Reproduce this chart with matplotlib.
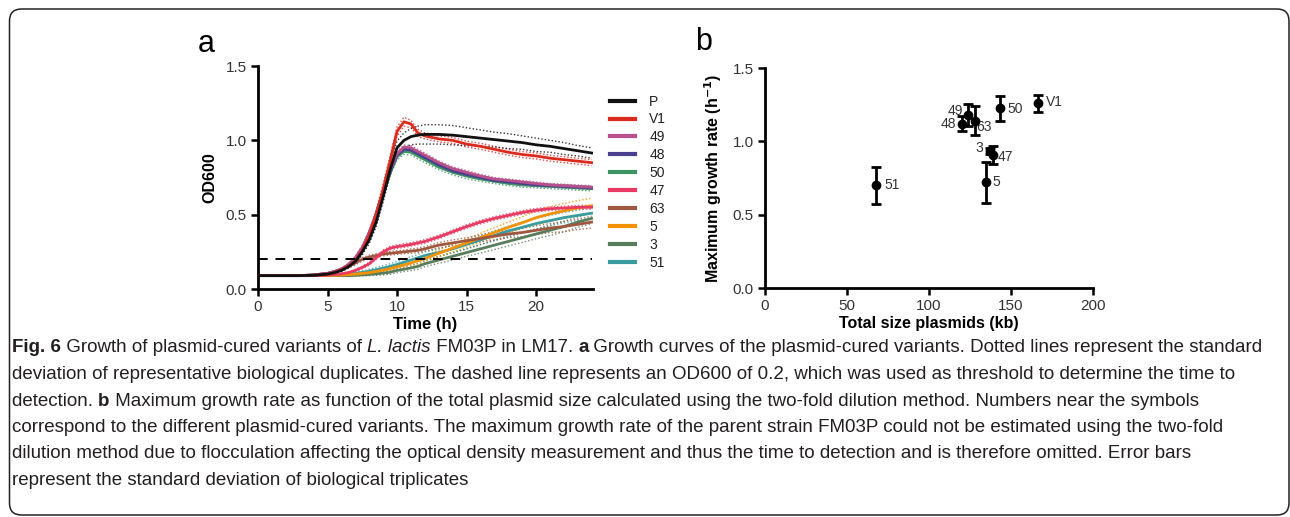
import matplotlib
matplotlib.use("Agg")
from matplotlib import pyplot as plt
from matplotlib.patches import FancyBboxPatch
from matplotlib.transforms import IdentityTransform

# ---- panel a: growth curves (OD600 vs time) ----
time_h = [0, 1, 2, 3, 4, 5, 5.5, 6, 6.5, 7, 7.5, 8, 8.5, 9, 9.5, 10, 10.5, 11, 11.5, 12,
          13, 14, 15, 16, 17, 18, 19, 20, 21, 22, 23, 24]

od_P = [0.09, 0.09, 0.09, 0.09, 0.092, 0.10, 0.11, 0.125, 0.15, 0.185, 0.25, 0.33, 0.45, 0.62, 0.80, 0.95,
        1.0, 1.025, 1.035, 1.04, 1.04, 1.035, 1.025, 1.015, 1.005, 0.995, 0.985, 0.97, 0.96, 0.945, 0.93, 0.915]
od_V1 = [0.09, 0.09, 0.09, 0.09, 0.093, 0.10, 0.112, 0.13, 0.155, 0.19, 0.26, 0.36, 0.5, 0.67, 0.86, 1.06,
         1.125, 1.11, 1.05, 1.03, 1.01, 1.0, 0.975, 0.96, 0.94, 0.92, 0.905, 0.895, 0.88, 0.87, 0.86, 0.85]
od_49 = [0.09, 0.09, 0.09, 0.09, 0.094, 0.105, 0.118, 0.135, 0.165, 0.21, 0.28, 0.38, 0.51, 0.66, 0.80, 0.91,
         0.955, 0.95, 0.925, 0.90, 0.85, 0.81, 0.785, 0.76, 0.74, 0.73, 0.72, 0.71, 0.70, 0.695, 0.69, 0.685]
od_48 = [0.09, 0.09, 0.09, 0.09, 0.094, 0.105, 0.117, 0.133, 0.162, 0.205, 0.275, 0.375, 0.50, 0.65, 0.79, 0.90,
         0.94, 0.935, 0.91, 0.885, 0.835, 0.795, 0.77, 0.75, 0.73, 0.72, 0.71, 0.70, 0.695, 0.69, 0.685, 0.68]
od_50 = [0.09, 0.09, 0.09, 0.09, 0.094, 0.104, 0.116, 0.132, 0.16, 0.20, 0.27, 0.37, 0.49, 0.64, 0.78, 0.89,
         0.925, 0.92, 0.895, 0.87, 0.82, 0.785, 0.76, 0.74, 0.725, 0.71, 0.70, 0.695, 0.69, 0.685, 0.68, 0.675]
od_47 = [0.09, 0.09, 0.09, 0.09, 0.09, 0.093, 0.097, 0.102, 0.11, 0.125, 0.145, 0.17, 0.21, 0.25, 0.275, 0.285,
         0.292, 0.30, 0.31, 0.32, 0.35, 0.385, 0.42, 0.45, 0.475, 0.495, 0.515, 0.53, 0.54, 0.545, 0.55, 0.55]
od_63 = [0.09, 0.09, 0.09, 0.09, 0.095, 0.105, 0.115, 0.13, 0.15, 0.175, 0.20, 0.215, 0.225, 0.235, 0.24, 0.245,
         0.25, 0.255, 0.26, 0.27, 0.295, 0.31, 0.325, 0.34, 0.355, 0.37, 0.38, 0.395, 0.41, 0.42, 0.435, 0.45]
od_5 = [0.09, 0.09, 0.09, 0.09, 0.09, 0.09, 0.092, 0.094, 0.097, 0.10, 0.105, 0.11, 0.118, 0.127, 0.137, 0.15,
        0.162, 0.175, 0.19, 0.205, 0.24, 0.275, 0.31, 0.345, 0.38, 0.415, 0.445, 0.48, 0.505, 0.525, 0.545, 0.56]
od_3 = [0.09, 0.09, 0.09, 0.09, 0.09, 0.09, 0.09, 0.09, 0.09, 0.092, 0.095, 0.098, 0.102, 0.107, 0.113, 0.125,
        0.133, 0.142, 0.152, 0.17, 0.195, 0.22, 0.245, 0.27, 0.295, 0.32, 0.345, 0.37, 0.395, 0.42, 0.45, 0.475]
od_51 = [0.09, 0.09, 0.09, 0.09, 0.09, 0.09, 0.092, 0.095, 0.10, 0.105, 0.112, 0.12, 0.13, 0.14, 0.152, 0.165,
         0.18, 0.195, 0.21, 0.225, 0.245, 0.27, 0.3, 0.33, 0.36, 0.39, 0.415, 0.44, 0.46, 0.48, 0.495, 0.51]

sd_P = [0, 0, 0, 0, 0, 0.003, 0.005, 0.008, 0.01, 0.015, 0.02, 0.025, 0.03, 0.035, 0.04, 0.045,
        0.05, 0.055, 0.06, 0.065, 0.065, 0.065, 0.06, 0.055, 0.05, 0.05, 0.045, 0.045, 0.04, 0.04, 0.035, 0.035]
sd_V1 = [0, 0, 0, 0, 0, 0.003, 0.005, 0.008, 0.01, 0.015, 0.02, 0.025, 0.03, 0.035, 0.035, 0.03,
         0.03, 0.025, 0.025, 0.02, 0.02, 0.02, 0.02, 0.02, 0.02, 0.02, 0.02, 0.02, 0.02, 0.02, 0.02, 0.02]
sd_49 = [0, 0, 0, 0, 0, 0.002, 0.003, 0.005, 0.007, 0.01, 0.012, 0.015, 0.015, 0.015, 0.015, 0.015,
         0.015, 0.015, 0.015, 0.015, 0.012, 0.012, 0.012, 0.012, 0.01, 0.01, 0.01, 0.01, 0.01, 0.01, 0.01, 0.01]
sd_48 = sd_49
sd_50 = [0, 0, 0, 0, 0, 0.002, 0.003, 0.005, 0.007, 0.01, 0.012, 0.015, 0.018, 0.02, 0.02, 0.02,
         0.02, 0.02, 0.02, 0.02, 0.018, 0.018, 0.018, 0.016, 0.016, 0.015, 0.015, 0.015, 0.015, 0.015, 0.015, 0.015]
sd_47 = [0, 0, 0, 0, 0, 0.002, 0.003, 0.004, 0.005, 0.006, 0.008, 0.01, 0.01, 0.012, 0.012, 0.012,
         0.012, 0.012, 0.012, 0.012, 0.012, 0.012, 0.012, 0.012, 0.012, 0.012, 0.012, 0.012, 0.012, 0.012, 0.012, 0.012]
sd_63 = [0, 0, 0, 0, 0, 0.003, 0.005, 0.008, 0.01, 0.012, 0.012, 0.012, 0.012, 0.012, 0.012, 0.012,
         0.012, 0.015, 0.015, 0.015, 0.018, 0.02, 0.02, 0.022, 0.025, 0.025, 0.028, 0.03, 0.03, 0.035, 0.035, 0.04]
sd_5 = [0, 0, 0, 0, 0, 0, 0.002, 0.003, 0.004, 0.005, 0.006, 0.008, 0.01, 0.012, 0.014, 0.015,
        0.016, 0.018, 0.02, 0.02, 0.022, 0.025, 0.028, 0.03, 0.032, 0.035, 0.04, 0.045, 0.05, 0.05, 0.05, 0.05]
sd_3 = [0, 0, 0, 0, 0, 0, 0.002, 0.003, 0.004, 0.005, 0.006, 0.008, 0.01, 0.012, 0.014, 0.015,
        0.016, 0.018, 0.02, 0.02, 0.022, 0.025, 0.025, 0.028, 0.03, 0.03, 0.032, 0.032, 0.035, 0.035, 0.035, 0.035]
sd_51 = [0, 0, 0, 0, 0, 0, 0.002, 0.004, 0.006, 0.008, 0.01, 0.012, 0.014, 0.016, 0.018, 0.02,
         0.02, 0.022, 0.022, 0.025, 0.025, 0.028, 0.03, 0.03, 0.032, 0.032, 0.035, 0.035, 0.035, 0.035, 0.035, 0.035]

series_names = ["P", "V1", "49", "48", "50", "47", "63", "5", "3", "51"]
series_od = [od_P, od_V1, od_49, od_48, od_50, od_47, od_63, od_5, od_3, od_51]
series_sd = [sd_P, sd_V1, sd_49, sd_48, sd_50, sd_47, sd_63, sd_5, sd_3, sd_51]
series_colors = ["#111111", "#dc2a1e", "#b8508c", "#4b3f8f", "#3b9462", "#e83a62",
                 "#a0573f", "#f39200", "#587d5c", "#3a9c9e"]
threshold_od = 0.2

# ---- panel b: max growth rate vs plasmid size ----
variant_labels = ["51", "48", "49", "63", "50", "V1", "3", "47", "5"]
size_kb = [67.5, 119.9, 123.6, 127.8, 143.1, 166.3, 137.0, 139.2, 134.6]
max_rate = [0.70, 1.12, 1.18, 1.14, 1.225, 1.26, 0.935, 0.907, 0.72]
rate_sd = [0.125, 0.05, 0.075, 0.10, 0.085, 0.057, 0.02, 0.06, 0.141]

CAPTION = [
    [("Fig. 6", "bold", "normal"), (" Growth of plasmid-cured variants of ", "normal", "normal"),
     ("L. lactis", "normal", "italic"), (" FM03P in LM17. ", "normal", "normal"), ("a", "bold", "normal"),
     (" Growth curves of the plasmid-cured variants. Dotted lines represent the standard", "normal", "normal")],
    [("deviation of representative biological duplicates. The dashed line represents an OD600 of 0.2, "
      "which was used as threshold to determine the time to", "normal", "normal")],
    [("detection. ", "normal", "normal"), ("b", "bold", "normal"),
     (" Maximum growth rate as function of the total plasmid size calculated using the two-fold dilution "
      "method. Numbers near the symbols", "normal", "normal")],
    [("correspond to the different plasmid-cured variants. The maximum growth rate of the parent strain "
      "FM03P could not be estimated using the two-fold", "normal", "normal")],
    [("dilution method due to flocculation affecting the optical density measurement and thus the time to "
      "detection and is therefore omitted. Error bars", "normal", "normal")],
    [("represent the standard deviation of biological triplicates", "normal", "normal")],
]

plt.rcParams["font.family"] = ["Liberation Sans", "DejaVu Sans"]
TICK_COLOR = "#333333"


def style_axes(ax):
    for side in ["top", "right"]:
        ax.spines[side].set_visible(False)
    for side in ["left", "bottom"]:
        ax.spines[side].set_linewidth(2.0)
    ax.tick_params(direction="out", length=5, width=1.8, labelsize=11, labelcolor=TICK_COLOR, pad=3)


def plot_growth(fig):
    ax = fig.add_axes([0.2, 0.441, 0.2597, 0.4313])
    handles = []
    n = len(series_names)
    for i in reversed(range(n)):
        od = series_od[i]
        sd = series_sd[i]
        upper = [m + s for m, s in zip(od, sd)]
        lower = [m - s for m, s in zip(od, sd)]
        ax.plot(time_h, upper, color=series_colors[i], lw=1.0, ls=(0, (1, 1.5)), alpha=0.85, zorder=2 + (n - i))
        ax.plot(time_h, lower, color=series_colors[i], lw=1.0, ls=(0, (1, 1.5)), alpha=0.85, zorder=2 + (n - i))
        h, = ax.plot(time_h, od, color=series_colors[i], lw=2.0, label=series_names[i], zorder=20 + (n - i))
        handles.append(h)
    handles = handles[::-1]
    ax.plot([0, 24], [threshold_od, threshold_od], color="black", lw=1.4, ls=(0, (5, 4)), zorder=40)
    ax.set_xlim(0, 24.1)
    ax.set_ylim(0, 1.5)
    ax.set_xticks([0, 5, 10, 15, 20])
    ax.set_yticks([0.0, 0.5, 1.0, 1.5])
    ax.set_yticklabels(["0.0", "0.5", "1.0", "1.5"])
    style_axes(ax)
    ax.set_xlabel("Time (h)", fontsize=12, fontweight="bold", labelpad=2)
    ax.set_ylabel("OD600", fontsize=11.5, fontweight="bold", labelpad=6)
    leg = ax.legend(handles=handles, loc="upper left", bbox_to_anchor=(1.035, 0.897), frameon=False,
                    fontsize=10, handlelength=1.8, handletextpad=1.0, labelspacing=0.28,
                    borderaxespad=0)
    for line in leg.get_lines():
        line.set_linewidth(3.0)
    for txt in leg.get_texts():
        txt.set_color("#222222")
    fig.text(198 / 1290, 1 - 44 / 517, "a", fontsize=22, va="center", ha="left")


def plot_rate(fig):
    ax = fig.add_axes([0.593, 0.4429, 0.2543, 0.4255])
    ax.errorbar(size_kb, max_rate, yerr=rate_sd, fmt="o", color="black", ms=6, elinewidth=2,
                capsize=3.5, capthick=2, zorder=3)
    offsets = {"51": (9, 0, "left"), "48": (-6, 0, "right"), "49": (-5, 4, "right"),
               "63": (2, -6, "left"), "50": (8, -1, "left"), "V1": (8, 1, "left"),
               "3": (-7, 3, "right"), "47": (4, -2, "left"), "5": (7, 0, "left")}
    for lab, x, y in zip(variant_labels, size_kb, max_rate):
        dx, dy, ha = offsets[lab]
        ax.annotate(lab, (x, y), xytext=(dx, dy), textcoords="offset pixels", ha=ha, va="center",
                    fontsize=10, color=TICK_COLOR)
    ax.set_xlim(0, 200)
    ax.set_ylim(0, 1.5)
    ax.set_xticks([0, 50, 100, 150, 200])
    ax.set_yticks([0.0, 0.5, 1.0, 1.5])
    ax.set_yticklabels(["0.0", "0.5", "1.0", "1.5"])
    style_axes(ax)
    ax.set_xlabel("Total size plasmids (kb)", fontsize=11.5, fontweight="bold", labelpad=2)
    ax.set_ylabel(r"Maximum growth rate (h$^{\mathbf{-1}}$)", fontsize=11.5, fontweight="bold", labelpad=6)
    fig.text(695 / 1290, 1 - 42 / 517, "b", fontsize=22, va="center", ha="left")


def draw_caption(fig):
    r = fig.canvas.get_renderer()
    W, H = fig.bbox.width, fig.bbox.height
    y = 348
    for line in CAPTION:
        x = 12
        for text, weight, style in line:
            t = fig.text(x / W, 1 - y / H, text, fontsize=13.5, fontweight=weight, fontstyle=style,
                         family=["Liberation Sans Narrow", "Liberation Sans", "DejaVu Sans"],
                         color="#231f20", va="center", ha="left")
            x += t.get_window_extent(renderer=r).width
        y += 26.5


def main():
    fig = plt.figure(figsize=(12.9, 5.17), dpi=100)
    frame = FancyBboxPatch((9.5, 2), 1279.5, 506, boxstyle="round,pad=0,rounding_size=12",
                           transform=IdentityTransform(), fill=False, ec="#222222", lw=1.1)
    fig.patches.append(frame)
    plot_growth(fig)
    plot_rate(fig)
    draw_caption(fig)
    fig.savefig("out.png", dpi=100)


if __name__ == "__main__":
    main()
